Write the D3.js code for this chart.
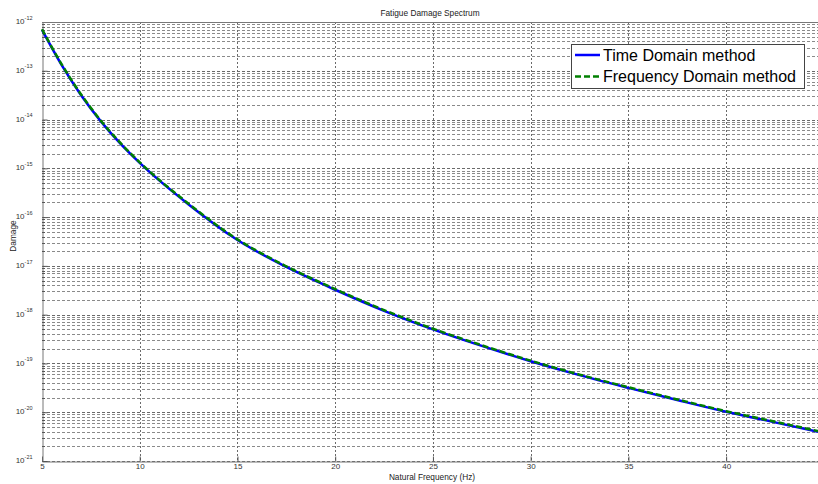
<!DOCTYPE html>
<html>
<head>
<meta charset="utf-8">
<script src="https://cdn.jsdelivr.net/npm/d3@7"></script>
<style>
  html, body { margin: 0; padding: 0; background: #fff; }
  svg { display: block; font-family: "Liberation Sans", Arial, sans-serif; }
</style>
</head>
<body>
<svg id="chart" width="818" height="484"></svg>
<script>
// Natural frequency (Hz) sample points
const frequency = [5, 6, 7, 8, 9, 10, 12.5, 15, 17.5, 20, 22.5, 25, 27.5, 30, 32.5, 35, 37.5, 40, 42.5, 44.7];
// Fatigue damage from the time domain method
const timeDomain = [6.9e-13, 1.32e-13, 3.16e-14, 9.3e-15, 3.24e-15, 1.29e-15, 1.82e-16, 3.39e-17, 9.5e-18, 3.24e-18,
                    1.2e-18, 5.0e-19, 2.29e-19, 1.11e-19, 5.75e-20, 3.16e-20, 1.78e-20, 1.02e-20, 6.2e-21, 3.98e-21];
// Fatigue damage from the frequency domain method
const freqDomain = [7.1e-13, 1.37e-13, 3.27e-14, 9.6e-15, 3.35e-15, 1.33e-15, 1.88e-16, 3.5e-17, 9.8e-18, 3.34e-18,
                    1.24e-18, 5.15e-19, 2.36e-19, 1.14e-19, 5.9e-20, 3.25e-20, 1.83e-20, 1.05e-20, 6.4e-21, 4.1e-21];
const xTicks = [5, 10, 15, 20, 25, 30, 35, 40];
const seriesNames = ["Time Domain method", "Frequency Domain method"];

const svg = d3.select("#chart");
const plotLeft = 42, plotTop = 22, plotRight = 818, plotBottom = 461;

const x = d3.scaleLinear().domain([5, 44.7]).range([plotLeft, plotRight]);
const y = d3.scaleLog().domain([1e-21, 1e-12]).range([plotBottom, plotTop]);

const allY = y.ticks();
const majorY = allY.filter(v => Math.abs(Math.log10(v) - Math.round(Math.log10(v))) < 1e-9);
const minorY = allY.filter(v => !majorY.includes(v));
const py = d => Math.round(y(d)) + 0.5;

// grid
const grid = svg.append("g");
grid.selectAll("line.minor").data(minorY).join("line")
  .attr("x1", plotLeft).attr("x2", plotRight)
  .attr("y1", py).attr("y2", py)
  .attr("stroke", "#8a8a8a").attr("stroke-width", 1).attr("stroke-dasharray", "3,2");
grid.selectAll("line.major").data(majorY).join("line")
  .attr("x1", plotLeft).attr("x2", plotRight)
  .attr("y1", py).attr("y2", py)
  .attr("stroke", "#6a6a6a").attr("stroke-width", 1).attr("stroke-dasharray", "3,2");
grid.selectAll("line.vx").data(xTicks.slice(1)).join("line")
  .attr("x1", d => Math.round(x(d)) + 0.5).attr("x2", d => Math.round(x(d)) + 0.5)
  .attr("y1", plotTop).attr("y2", plotBottom)
  .attr("stroke", "#6a6a6a").attr("stroke-width", 1).attr("stroke-dasharray", "2,2");

// axes
const xAxis = svg.append("g").attr("transform", `translate(0,${plotBottom + 0.5})`)
  .call(d3.axisBottom(x).tickValues(xTicks).tickSizeInner(-5).tickSizeOuter(0).tickPadding(2).tickFormat(d3.format("d")));
xAxis.select(".domain").attr("stroke", "#777");
xAxis.selectAll(".tick line").attr("stroke", "#555");
xAxis.selectAll("text").attr("font-size", 8).attr("fill", "#333");

const yAxis = svg.append("g").attr("transform", `translate(${plotLeft + 0.5},0)`)
  .call(d3.axisLeft(y).tickValues(majorY).tickSizeInner(-5).tickSizeOuter(0).tickPadding(10).tickFormat(""));
yAxis.select(".domain").attr("stroke", "#777");
yAxis.selectAll(".tick line").attr("stroke", "#555");
yAxis.selectAll(".tick text")
  .attr("fill", "#333").attr("font-size", 8).attr("dy", "0.2em")
  .each(function(d) {
    const t = d3.select(this);
    t.append("tspan").text("10");
    t.append("tspan").attr("font-size", 5.5).attr("dy", "-0.8em").text(Math.round(Math.log10(d)));
  });
svg.append("g").selectAll("line").data(minorY).join("line")
  .attr("x1", plotLeft).attr("x2", plotLeft + 3)
  .attr("y1", py).attr("y2", py)
  .attr("stroke", "#555");

// top border
svg.append("line").attr("x1", plotLeft).attr("x2", plotRight).attr("y1", plotTop + 0.5).attr("y2", plotTop + 0.5)
  .attr("stroke", "#777");

// curves
const line = vals => d3.line()
  .x((d, i) => x(frequency[i]))
  .y(d => y(d))
  .curve(d3.curveMonotoneX)(vals);

const plot = svg.append("g");
plot.append("path").attr("d", line(timeDomain))
  .attr("fill", "none").attr("stroke", "#0000ff").attr("stroke-width", 2.5);
plot.append("path").attr("d", line(freqDomain))
  .attr("fill", "none").attr("stroke", "#008000").attr("stroke-width", 2.5)
  .attr("stroke-dasharray", "6,3");

// labels
svg.append("text").attr("x", 430).attr("y", 16).attr("text-anchor", "middle")
  .attr("font-size", 8.3).attr("fill", "#222").text("Fatigue Damage Spectrum");
svg.append("text").attr("x", 432).attr("y", 480).attr("text-anchor", "middle")
  .attr("font-size", 8.3).attr("fill", "#222").text("Natural Frequency (Hz)");
svg.append("text").attr("transform", "translate(16,236) rotate(-90)").attr("text-anchor", "middle")
  .attr("font-size", 8.3).attr("fill", "#222").text("Damage");

// legend
const lg = svg.append("g");
lg.append("rect").attr("x", 571.5).attr("y", 44.5).attr("width", 233).attr("height", 44)
  .attr("fill", "#fff").attr("stroke", "#444").attr("stroke-width", 1);
const styles = [
  { color: "#0000ff", dash: null },
  { color: "#008000", dash: "6,3" }
];
seriesNames.forEach((name, i) => {
  const cy = 55 + i * 21.5;
  lg.append("line").attr("x1", 575).attr("x2", 600).attr("y1", cy).attr("y2", cy)
    .attr("stroke", styles[i].color).attr("stroke-width", 2.5)
    .attr("stroke-dasharray", styles[i].dash);
  lg.append("text").attr("x", 603).attr("y", cy).attr("dy", "0.36em")
    .attr("font-size", 16).attr("fill", "#000").text(name);
});
</script>
</body>
</html>
